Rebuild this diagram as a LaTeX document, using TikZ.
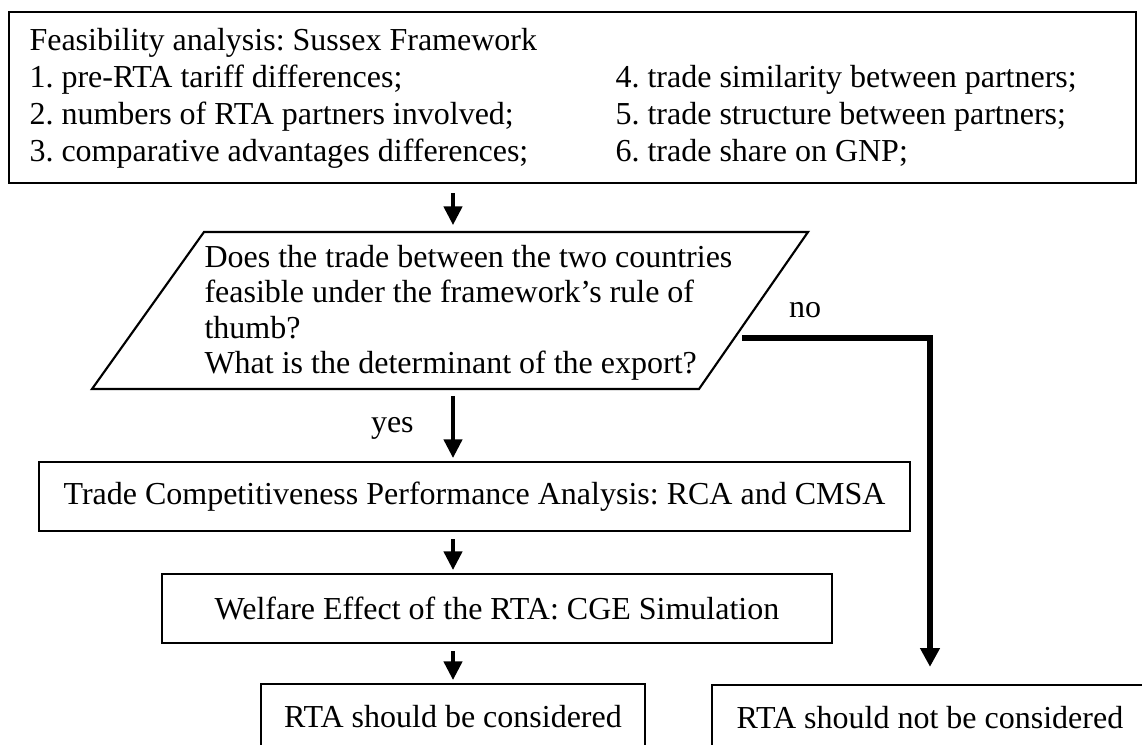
\documentclass[tikz,border=0pt]{standalone}
\usepackage{fontspec}
\setmainfont{Liberation Serif}
\usetikzlibrary{arrows.meta,positioning}
\frenchspacing

\tikzset{
  frame/.style={draw, line width=0.8pt, inner sep=0pt},
  arr/.style={-{Triangle[length=7pt,width=6.8pt]}, line width=1.5pt, shorten <=2.6pt, shorten >=1.1pt},
  noarr/.style={-{Triangle[length=7pt,width=7pt]}, line width=2.4pt},
  txt/.style={anchor=base west, inner sep=0pt},
}

\begin{document}
\begin{tikzpicture}[x=0.375pt,y=-0.375pt,font=\fontsize{12}{13.9}\selectfont]
\useasboundingbox (0,0) rectangle (1142,745);
\clip (0,0) rectangle (1142,745);

% framework box
\node[frame, minimum width=1127*0.375pt, minimum height=171*0.375pt] (feas) at (572.5,97.5) {};
\node[txt] (h0) at (29,51) {Feasibility analysis: Sussex Framework};
\node[txt] (c1) at (29,88) {1. pre-RTA tariff differences;};
\node[txt] (c2) at (29,125) {2. numbers of RTA partners involved;};
\node[txt] (c3) at (29,162) {3. comparative advantages differences;};
\node[txt] (c4) at (615,88) {4. trade similarity between partners;};
\node[txt] (c5) at (615,125) {5. trade structure between partners;};
\node[txt] (c6) at (615,162) {6. trade share on GNP;};

% decision
\coordinate (qbl) at (92,389);
\coordinate (qtl) at (204,232);
\coordinate (qtr) at (808,232);
\coordinate (qbr) at (699,389);
\draw[line width=0.8pt] (qbl) -- (qtl) -- (qtr) -- (qbr) -- cycle;
\node[txt] (q1) at (204,267) {Does the trade between the two countries};
\node[txt] (q2) at (204,302) {feasible under the framework's rule of};
\node[txt] (q3) at (204,338) {thumb?};
\node[txt] (q4) at (204,373) {What is the determinant of the export?};
\coordinate (qno) at (742,338);

% results
\node[frame, minimum width=871*0.375pt, minimum height=69*0.375pt] (rca) at (474.5,496.5)
  {Trade Competitiveness Performance Analysis: RCA and CMSA};
\node[frame, minimum width=670*0.375pt, minimum height=69*0.375pt] (cge) at (497,608.5)
  {Welfare Effect of the RTA: CGE Simulation};
\node[frame, minimum width=384*0.375pt, minimum height=66*0.375pt] (cons) at (453,717)
  {RTA should be considered};
\node[frame, minimum width=436*0.375pt, minimum height=66*0.375pt] (notcons) at (930,718)
  {RTA should not be considered};

% arrows
\draw[arr, shorten <=3.4pt, shorten >=2.6pt] (feas.south -| cons.north) -- (qtl -| cons.north);
\draw[arr] (qbl -| cons.north) -- node[pos=0.55, left=14pt, inner sep=0pt] (yes) {yes} (rca.north -| cons.north);
\draw[arr] (rca.south -| cons.north) -- (cge.north -| cons.north);
\draw[arr] (cge.south -| cons.north) -- (cons.north);
\draw[noarr, shorten >=6.4pt] (qno) -| (notcons.north);
\node (no) at (805,310) {no};
\end{tikzpicture}
\end{document}
